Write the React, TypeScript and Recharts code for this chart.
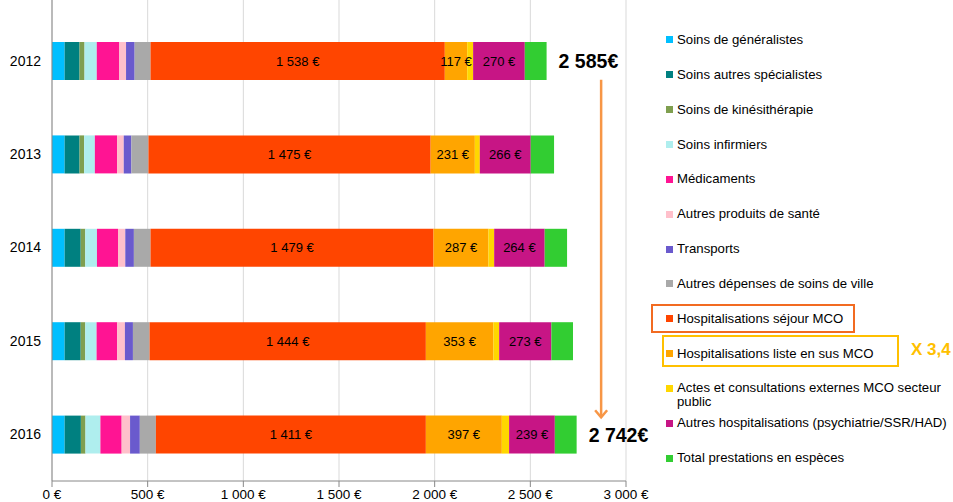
import {
  Bar,
  BarChart,
  CartesianGrid,
  LabelList,
  Legend,
  ReferenceLine,
  XAxis,
  YAxis,
} from "recharts";

const years = ["2012", "2013", "2014", "2015", "2016"];

const generalistes = [66, 66, 66, 66, 66];
const specialistes = [78, 78, 84, 84, 85];
const kine = [26, 24, 24, 24, 24];
const infirmiers = [64, 56, 61, 59, 78];
const medicaments = [118, 116, 110, 108, 111];
const autresProduits = [35, 35, 38, 40, 44];
const transports = [45, 40, 45, 42, 51];
const autresVille = [83, 89, 87, 87, 84];
const sejourMco = [1538, 1475, 1479, 1444, 1411];
const listeEnSus = [117, 231, 287, 353, 397];
const actesExternes = [31, 26, 30, 30, 38];
const autresHosp = [270, 266, 264, 273, 239];
const especes = [114, 122, 117, 113, 114];

const totalLabels = ["2 585€", "", "", "", "2 742€"];
const xTicks = [0, 500, 1000, 1500, 2000, 2500, 3000];

const series = [
  { key: "generalistes", name: "Soins de généralistes", color: "#00BFFF", values: generalistes },
  { key: "specialistes", name: "Soins autres spécialistes", color: "#008080", values: specialistes },
  { key: "kine", name: "Soins de kinésithérapie", color: "#7F9F4F", values: kine },
  { key: "infirmiers", name: "Soins infirmiers", color: "#AFEEEE", values: infirmiers },
  { key: "medicaments", name: "Médicaments", color: "#FF1493", values: medicaments },
  { key: "autresProduits", name: "Autres produits de santé", color: "#FFC0CB", values: autresProduits },
  { key: "transports", name: "Transports", color: "#6A5ACD", values: transports },
  { key: "autresVille", name: "Autres dépenses de soins de ville", color: "#A9A9A9", values: autresVille },
  { key: "sejourMco", name: "Hospitalisations séjour MCO", color: "#FF4500", values: sejourMco, label: true },
  { key: "listeEnSus", name: "Hospitalisations liste en sus MCO", color: "#FFA500", values: listeEnSus, label: true },
  { key: "actesExternes", name: "Actes et consultations externes MCO secteur public", color: "#FFD700", values: actesExternes },
  { key: "autresHosp", name: "Autres hospitalisations (psychiatrie/SSR/HAD)", color: "#C71585", values: autresHosp, label: true },
  { key: "especes", name: "Total prestations en espèces", color: "#32CD32", values: especes },
];

const data = years.map((year, i) => {
  const row: Record<string, string | number> = { year, totalLabel: totalLabels[i] };
  series.forEach((s) => {
    row[s.key] = s.values[i];
  });
  return row;
});

const FONT = "'Liberation Sans', Arial, sans-serif";

// 1538 -> "1 538"
function groupThousands(n: number) {
  if (n < 1000) return String(n);
  return `${Math.floor(n / 1000)} ${String(n % 1000).padStart(3, "0")}`;
}

const euro = (v: any) => `${groupThousands(Number(v))} €`;

// plain <text> so short segments don't wrap the label
function ValueLabel(props: any) {
  const { x, y, width, height, value } = props;
  return (
    <text
      x={x + width / 2}
      y={y + height / 2}
      textAnchor="middle"
      dominantBaseline="central"
      fontFamily={FONT}
      fontSize={13}
      fill="#000"
    >
      {euro(value)}
    </text>
  );
}

function TotalLabel(props: any) {
  const { x, y, width, height, value } = props;
  if (!value) return null;
  return (
    <text
      x={x + width + 12}
      y={y + height / 2}
      dominantBaseline="central"
      fontFamily={FONT}
      fontWeight="bold"
      fontSize={19.5}
      fill="#000"
    >
      {value}
    </text>
  );
}

function DownArrow(props: any) {
  const { x1, y1, y2 } = props;
  const top = y1 + 19;
  const bottom = y2 - 17;
  return (
    <g>
      <line x1={x1} y1={top} x2={x1} y2={bottom} stroke="#F79646" strokeWidth={2.5} />
      <polyline
        points={`${x1 - 6},${bottom - 7} ${x1},${bottom} ${x1 + 6},${bottom - 7}`}
        fill="none"
        stroke="#F79646"
        strokeWidth={2.5}
      />
    </g>
  );
}

function LegendList() {
  return (
    <div style={{ width: 287, fontFamily: FONT, fontSize: 13.2, color: "#000" }}>
      {series.map((s) => (
        <div
          key={s.key}
          style={{ height: 34.85, paddingTop: 10.4, boxSizing: "border-box", display: "flex" }}
        >
          <span
            style={{
              width: 7,
              height: 7,
              marginTop: 3.5,
              marginRight: 4,
              background: s.color,
              flex: "none",
            }}
          />
          <span style={{ lineHeight: "14px", width: 280, whiteSpace: "normal" }}>{s.name}</span>
        </div>
      ))}
    </div>
  );
}

export default function App() {
  return (
    <div style={{ position: "absolute", left: 0, top: 0, width: 953, height: 502, background: "#fff" }}>
      <BarChart
        width={953}
        height={502}
        data={data}
        layout="vertical"
        barSize={38}
        margin={{ top: 0, right: 327, left: 0, bottom: 0 }}
      >
        <CartesianGrid horizontal={false} stroke="#d9d9d9" />
        <XAxis
          type="number"
          domain={[0, 3000]}
          ticks={xTicks}
          height={21}
          tickFormatter={euro}
          tick={{ fontSize: 13.5, fill: "#000", fontFamily: FONT }}
          stroke="#888"
        />
        <YAxis
          type="category"
          dataKey="year"
          width={52}
          padding={{ top: 14, bottom: 0 }}
          tickLine={false}
          tickMargin={5}
          tick={{ fontSize: 14, fill: "#000", fontFamily: FONT }}
          stroke="#888"
        />
        {series.map((s) => (
          <Bar key={s.key} dataKey={s.key} name={s.name} stackId="a" fill={s.color} isAnimationActive={false}>
            {s.label && <LabelList dataKey={s.key} content={ValueLabel} />}
            {s.key === "especes" && <LabelList dataKey="totalLabel" content={TotalLabel} />}
          </Bar>
        ))}
        <ReferenceLine
          segment={[
            { x: 2870, y: "2012" },
            { x: 2870, y: "2016" },
          ]}
          shape={DownArrow}
        />
        <Legend
          layout="horizontal"
          verticalAlign="middle"
          align="center"
          content={LegendList}
          wrapperStyle={{ left: 666, top: 22.6, width: 287 }}
        />
      </BarChart>
      <div
        style={{
          position: "absolute",
          left: 651,
          top: 304,
          width: 204,
          height: 29,
          border: "2px solid #F26B21",
          boxSizing: "border-box",
        }}
      />
      <div
        style={{
          position: "absolute",
          left: 662,
          top: 335,
          width: 237,
          height: 32,
          border: "2px solid #FFC000",
          boxSizing: "border-box",
        }}
      />
      <div
        style={{
          position: "absolute",
          left: 911,
          top: 340,
          fontFamily: FONT,
          fontWeight: "bold",
          fontSize: 17,
          color: "#FFC000",
          whiteSpace: "nowrap",
        }}
      >
        X 3,4
      </div>
    </div>
  );
}
